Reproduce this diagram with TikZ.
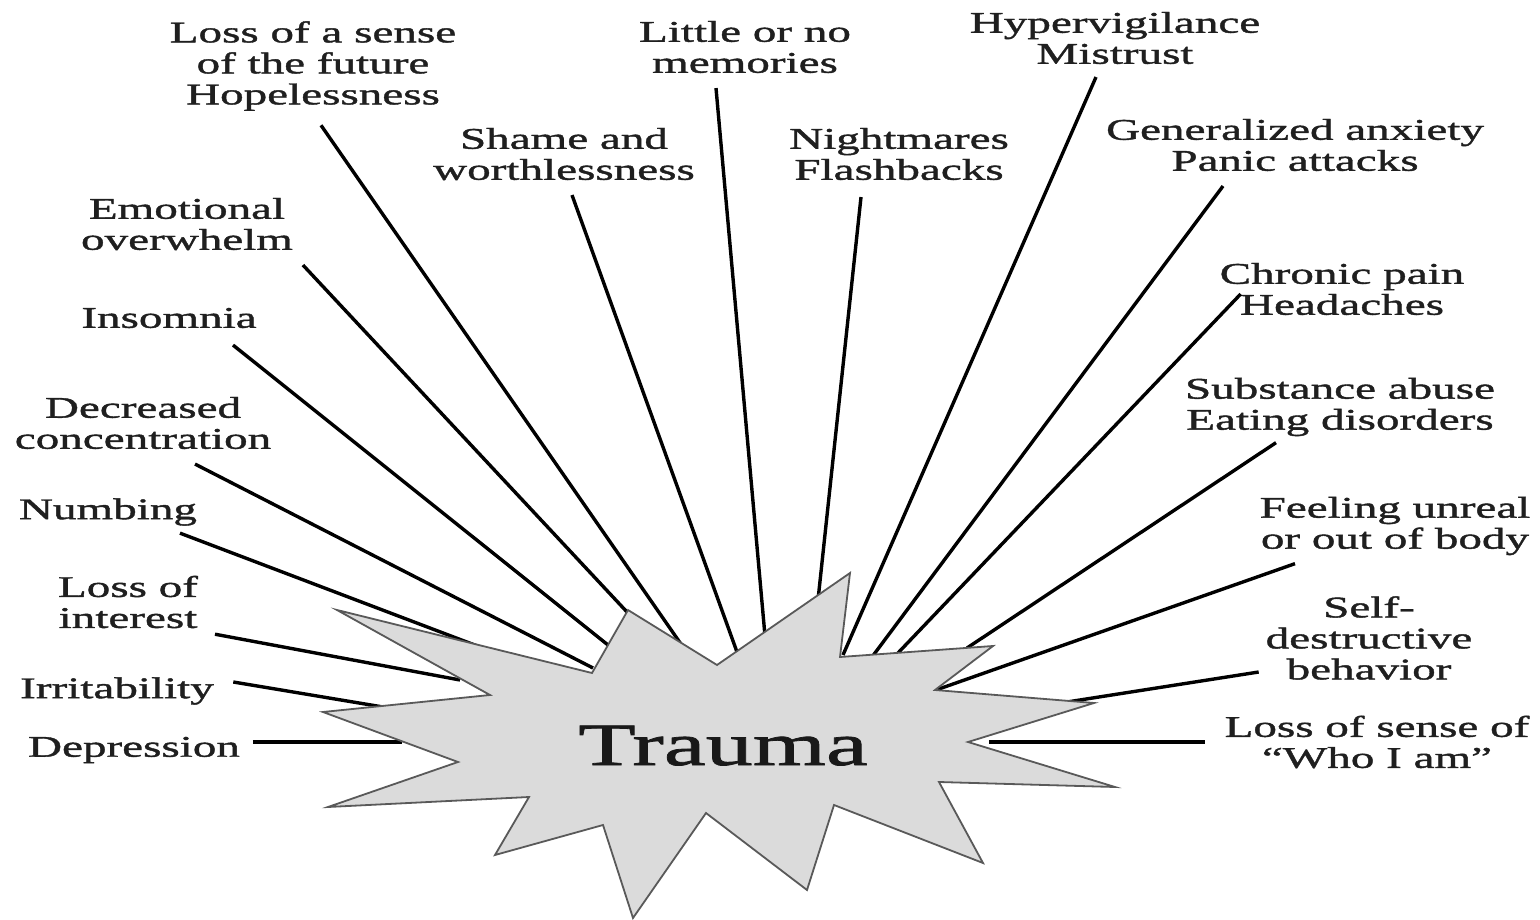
\documentclass[tikz,border=0pt]{standalone}
\usepackage{fontspec}
\setmainfont{Liberation Serif}[FakeStretch=1.57,FakeBold=1.3]
\begin{document}
\begin{tikzpicture}[x=1pt,y=-1pt,
  lab/.style={align=center, font=\fontsize{30}{31}\selectfont, text=black!88, inner sep=0pt, outer sep=0pt},
  conn/.style={line width=3.4pt, black},
  burst/.style={fill=black!14, draw=black!65, line width=1.8pt, line join=miter}]
\useasboundingbox[fill=white] (0,0) rectangle (1540,920);

% labels
\node[lab] (fut)  at (313,66)  {Loss of a sense\\of the future\\Hopelessness};
\node[lab] (mem)  at (745,47)  {Little or no\\memories};
\node[lab] (hyp)  at (1115,38) {Hypervigilance\\Mistrust};
\node[lab] (sha)  at (564,154) {Shame and\\worthlessness};
\node[lab] (nig)  at (899,154) {Nightmares\\Flashbacks};
\node[lab] (anx)  at (1295,145) {Generalized anxiety\\Panic attacks};
\node[lab] (emo)  at (187,224) {Emotional\\overwhelm};
\node[lab] (pain) at (1342,289) {Chronic pain\\Headaches};
\node[lab] (ins)  at (169,318) {Insomnia};
\node[lab] (dec)  at (143,423) {Decreased\\concentration};
\node[lab] (sub)  at (1340,407) {Substance abuse\\Eating disorders};
\node[lab] (num)  at (108,512) {Numbing};
\node[lab] (unr)  at (1395,526) {Feeling unreal\\or out of body};
\node[lab] (int)  at (128,602) {Loss of\\interest};
\node[lab] (self) at (1369,638) {Self-\\destructive\\behavior};
\node[lab] (irr)  at (117,691) {Irritability};
\node[lab] (dep)  at (134,750) {Depression};
\node[lab] (who)  at (1377,742) {Loss of sense of\\``Who I am''};

% connector ends on the starburst
\coordinate (futE)  at (683,647);
\coordinate (memE)  at (765,636);
\coordinate (hypE)  at (843,655);
\coordinate (shaE)  at (737,652);
\coordinate (nigE)  at (818,600);
\coordinate (anxE)  at (872,657);
\coordinate (emoE)  at (627,612);
\coordinate (painE) at (897,654);
\coordinate (insE)  at (608,645);
\coordinate (decE)  at (593,668);
\coordinate (subE)  at (967,648);
\coordinate (numE)  at (480,647);
\coordinate (unrE)  at (936,690);
\coordinate (intE)  at (460,680);
\coordinate (selfE) at (1067,702);
\coordinate (irrE)  at (383,707);
\coordinate (depE)  at (402,742);
\coordinate (whoE)  at (989,742);

% connectors
\draw[conn] ([shift={(8,14.5)}]fut.south) -- (futE);
\draw[conn] ([shift={(-29,15)}]mem.south) -- (memE);
\draw[conn] ([shift={(-19,13)}]hyp.south) -- (hypE);
\draw[conn] ([shift={(8,15)}]sha.south) -- (shaE);
\draw[conn] ([shift={(-38,17)}]nig.south) -- (nigE);
\draw[conn] ([shift={(-72,15)}]anx.south) -- (anxE);
\draw[conn] ([shift={(10,15)}]emo.south east) -- (emoE);
\draw[conn] ([shift={(21,5)}]pain.west) -- (painE);
\draw[conn] ([shift={(64,17)}]ins.south) -- (insE);
\draw[conn] ([shift={(52,15)}]dec.south) -- (decE);
\draw[conn] ([shift={(-64,6.5)}]sub.south) -- (subE);
\draw[conn] ([shift={(72,7.5)}]num.south) -- (numE);
\draw[conn] ([shift={(-100,8.5)}]unr.south) -- (unrE);
\draw[conn] ([shift={(17,6)}]int.south east) -- (intE);
\draw[conn] ([shift={(-7,34)}]self.west) -- (selfE);
\draw[conn] ([shift={(19.5,-9)}]irr.east) -- (irrE);
\draw[conn] ([shift={(13,-8)}]dep.east) -- (depE);
\draw[conn] ([shift={(-20,0)}]who.west) -- (whoE);

% starburst
\draw[burst] (850,573) -- (840,657) -- (993,646) -- (935,690) -- (1094,703)
  -- (968,742) -- (1115,787) -- (939,782) -- (983,863) -- (834,805)
  -- (807,890) -- (706,813) -- (633,918) -- (603,825) -- (495,855)
  -- (529,797) -- (328,807) -- (458,762) -- (323,712) -- (490,695)
  -- (337,610) -- (592,673) -- (628,610) -- (717,665) -- cycle;
\node[font=\fontsize{60}{60}\selectfont, text=black!90, inner sep=0pt, anchor=base] (trauma) at (723,765) {Trauma};
\end{tikzpicture}
\end{document}
